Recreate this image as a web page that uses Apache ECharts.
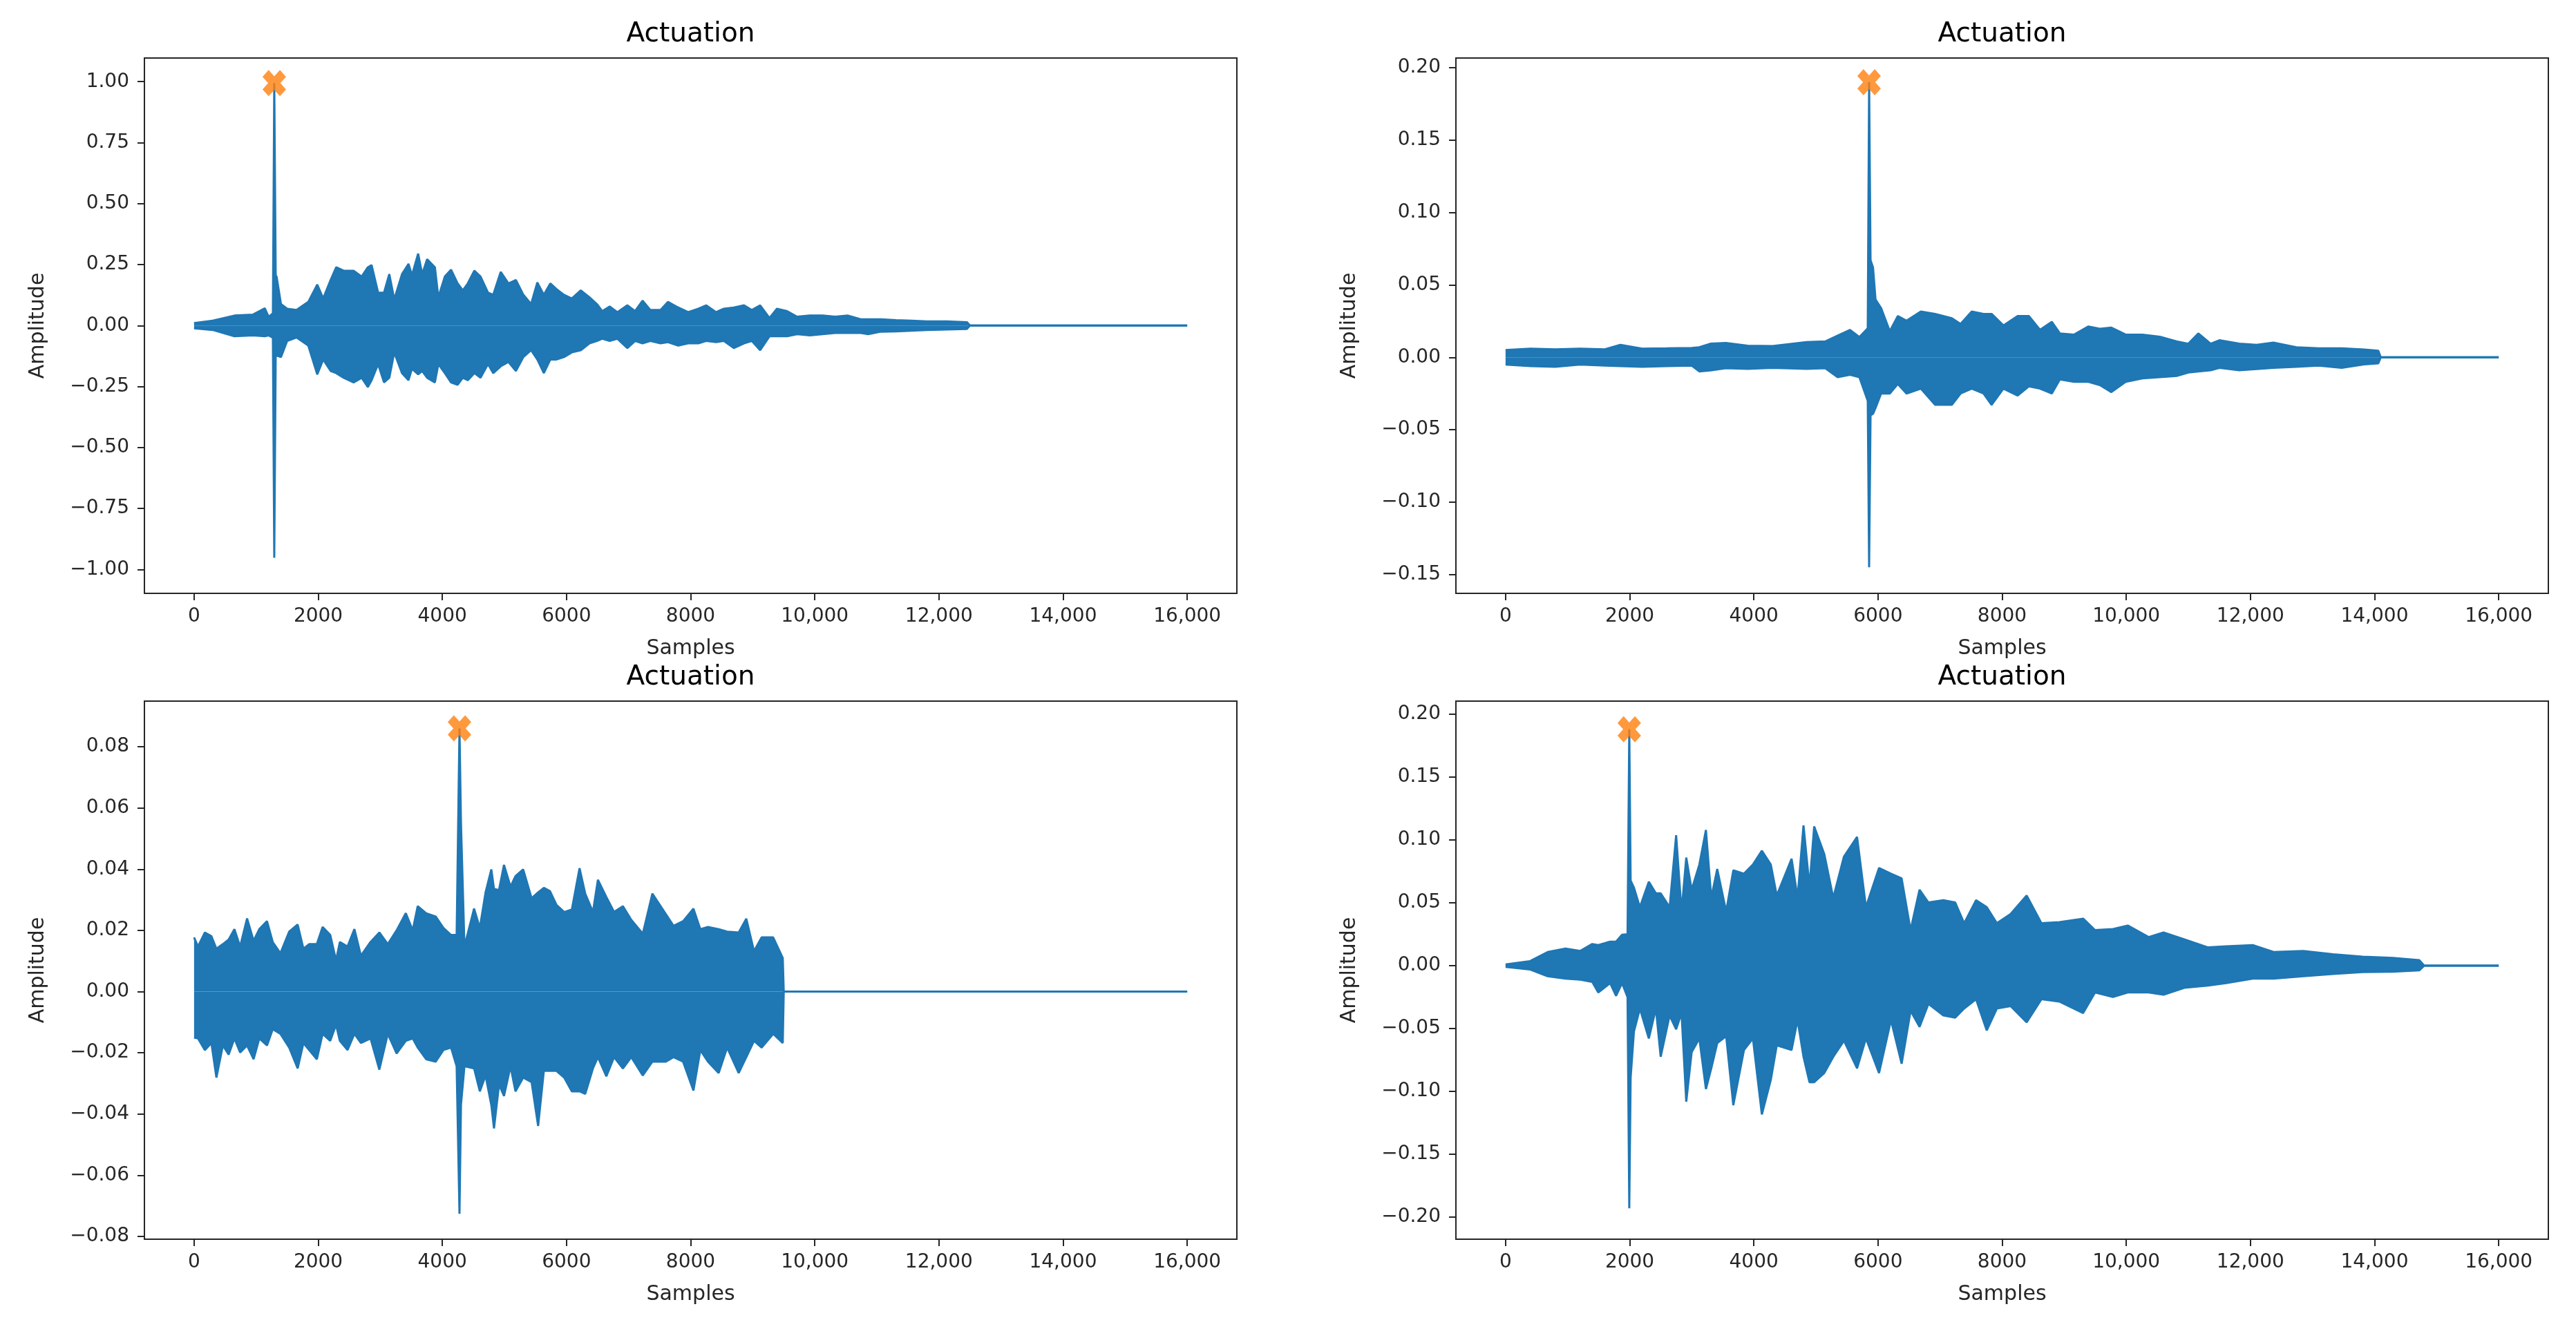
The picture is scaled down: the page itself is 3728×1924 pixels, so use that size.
<!DOCTYPE html>
<html>
<head>
<meta charset="utf-8">
<script src="https://cdn.jsdelivr.net/npm/echarts@6/dist/echarts.min.js"></script>
<style>
html, body { margin: 0; padding: 0; background: #fff; }
#chart { width: 3728px; height: 1924px; }
</style>
</head>
<body>
<div id="chart"></div>
<script>
// [sample, upper envelope, lower envelope]
var wave1 = [
    [0, 0.010, -0.011], [300, 0.020, -0.018], [650, 0.041, -0.044], [950, 0.045, -0.040],
    [1140, 0.071, -0.044], [1200, 0.036, -0.040], [1270, 0.050, -0.050], [1292, 0.994, -0.952],
    [1315, 0.207, -0.122], [1330, 0.200, -0.120], [1400, 0.088, -0.129], [1500, 0.069, -0.063],
    [1650, 0.064, -0.049], [1840, 0.097, -0.082], [1985, 0.168, -0.200], [2080, 0.111, -0.139],
    [2200, 0.187, -0.186], [2290, 0.239, -0.195], [2410, 0.225, -0.214], [2570, 0.225, -0.233],
    [2700, 0.201, -0.214], [2800, 0.239, -0.252], [2860, 0.248, -0.224], [2965, 0.135, -0.158],
    [3060, 0.135, -0.233], [3145, 0.211, -0.214], [3225, 0.107, -0.110], [3350, 0.211, -0.195],
    [3455, 0.253, -0.224], [3510, 0.206, -0.177], [3610, 0.295, -0.200], [3675, 0.211, -0.186],
    [3755, 0.272, -0.214], [3880, 0.239, -0.233], [3935, 0.116, -0.158], [4040, 0.201, -0.195],
    [4140, 0.229, -0.233], [4245, 0.173, -0.243], [4330, 0.144, -0.214], [4410, 0.173, -0.224],
    [4515, 0.225, -0.195], [4615, 0.201, -0.214], [4735, 0.135, -0.158], [4820, 0.126, -0.195],
    [4940, 0.220, -0.167], [5065, 0.173, -0.149], [5185, 0.187, -0.186], [5305, 0.126, -0.129],
    [5430, 0.088, -0.101], [5530, 0.177, -0.139], [5635, 0.126, -0.195], [5740, 0.173, -0.139],
    [5840, 0.149, -0.139], [5960, 0.126, -0.129], [6085, 0.111, -0.110], [6230, 0.144, -0.101],
    [6370, 0.116, -0.073], [6490, 0.088, -0.063], [6575, 0.059, -0.054], [6695, 0.078, -0.063],
    [6820, 0.055, -0.054], [6980, 0.083, -0.092], [7105, 0.059, -0.063], [7225, 0.102, -0.073],
    [7350, 0.064, -0.063], [7515, 0.064, -0.073], [7635, 0.097, -0.068], [7800, 0.074, -0.082],
    [7960, 0.055, -0.073], [8125, 0.069, -0.073], [8250, 0.083, -0.063], [8410, 0.055, -0.068],
    [8535, 0.069, -0.063], [8695, 0.074, -0.092], [8860, 0.083, -0.073], [8985, 0.064, -0.063],
    [9120, 0.083, -0.101], [9270, 0.031, -0.044], [9390, 0.069, -0.044], [9555, 0.059, -0.044],
    [9715, 0.036, -0.035], [9920, 0.041, -0.040], [10125, 0.041, -0.035], [10330, 0.036, -0.030],
    [10535, 0.041, -0.030], [10740, 0.026, -0.030], [10860, 0.026, -0.035], [11065, 0.026, -0.025],
    [11310, 0.022, -0.024], [11555, 0.020, -0.021], [11800, 0.017, -0.018], [12125, 0.017, -0.016],
    [12450, 0.014, -0.014], [12500, 0, 0], [16000, 0, 0]
];

var wave2 = [
    [0, 0.005, -0.005], [400, 0.006, -0.006], [800, 0.0055, -0.0065], [1200, 0.006, -0.005],
    [1600, 0.0055, -0.0057], [1850, 0.0086, -0.006], [2200, 0.006, -0.0065], [2600, 0.0062, -0.006],
    [3000, 0.0065, -0.0057], [3120, 0.007, -0.0097], [3300, 0.0094, -0.009], [3550, 0.0099, -0.0075],
    [3900, 0.008, -0.008], [4300, 0.0078, -0.0073], [4850, 0.0105, -0.008], [5150, 0.011, -0.0075],
    [5350, 0.015, -0.0137], [5550, 0.0189, -0.012], [5700, 0.014, -0.0137], [5835, 0.020, -0.030],
    [5857, 0.190, -0.145], [5880, 0.067, -0.040], [5920, 0.062, -0.039], [5960, 0.040, -0.035],
    [6050, 0.034, -0.025], [6190, 0.018, -0.025], [6320, 0.0285, -0.0184], [6460, 0.0253, -0.025],
    [6690, 0.0316, -0.0216], [6920, 0.030, -0.0328], [7190, 0.027, -0.0328], [7330, 0.023, -0.025],
    [7510, 0.0316, -0.0216], [7700, 0.030, -0.025], [7830, 0.030, -0.0328], [8020, 0.022, -0.0216],
    [8250, 0.0285, -0.0264], [8430, 0.0285, -0.020], [8610, 0.019, -0.0216], [8800, 0.0245, -0.025],
    [8930, 0.0165, -0.0153], [9160, 0.0157, -0.0169], [9390, 0.0213, -0.0169], [9575, 0.0197, -0.0192],
    [9760, 0.0205, -0.024], [9990, 0.0157, -0.0169], [10260, 0.0157, -0.0145], [10540, 0.0142, -0.0137],
    [10810, 0.011, -0.0129], [11000, 0.0094, -0.0105], [11160, 0.0165, -0.0097], [11360, 0.0094, -0.0089],
    [11500, 0.0118, -0.0073], [11820, 0.0094, -0.0089], [12100, 0.0086, -0.0081], [12370, 0.0102, -0.0073],
    [12740, 0.007, -0.0065], [13100, 0.0062, -0.0057], [13470, 0.0062, -0.0073], [13830, 0.0054, -0.0049],
    [14060, 0.0046, -0.0041], [14100, 0, 0], [16000, 0, 0]
];

var wave3 = [
    [0, 0.0177, -0.0150], [63, 0.0147, -0.0153], [174, 0.0193, -0.0191], [279, 0.0181, -0.0168],
    [360, 0.0140, -0.0281], [464, 0.0155, -0.0176], [557, 0.0170, -0.0206], [650, 0.0204, -0.0153],
    [742, 0.0147, -0.0199], [854, 0.0239, -0.0176], [959, 0.0166, -0.0221], [1051, 0.0204, -0.0153],
    [1175, 0.0230, -0.0176], [1267, 0.0162, -0.0123], [1391, 0.0125, -0.0138], [1533, 0.0196, -0.0183],
    [1669, 0.0219, -0.0251], [1762, 0.0140, -0.0168], [1854, 0.0155, -0.0191], [1978, 0.0155, -0.0221],
    [2071, 0.0211, -0.0138], [2194, 0.0185, -0.0161], [2287, 0.0102, -0.0108], [2349, 0.0162, -0.0161],
    [2472, 0.0147, -0.0191], [2583, 0.0204, -0.0138], [2688, 0.0117, -0.0168], [2843, 0.0162, -0.0153],
    [2985, 0.0193, -0.0255], [3121, 0.0155, -0.0138], [3263, 0.0200, -0.0202], [3411, 0.0256, -0.0161],
    [3522, 0.0200, -0.0153], [3603, 0.0279, -0.0183], [3739, 0.0256, -0.0221], [3893, 0.0245, -0.0229],
    [4017, 0.0208, -0.0191], [4140, 0.0185, -0.0183], [4230, 0.0185, -0.0244], [4276, 0.0860, -0.0726],
    [4300, 0.0550, -0.0370], [4356, 0.0147, -0.0244], [4511, 0.0271, -0.0251], [4604, 0.0208, -0.0326],
    [4696, 0.0324, -0.0274], [4789, 0.0399, -0.0371], [4832, 0.0335, -0.0447], [4913, 0.0332, -0.0304],
    [4993, 0.0414, -0.0341], [5098, 0.0343, -0.0244], [5178, 0.0377, -0.0326], [5302, 0.0399, -0.0281],
    [5438, 0.0305, -0.0296], [5543, 0.0324, -0.0439], [5635, 0.0339, -0.0259], [5734, 0.0328, -0.0259],
    [5839, 0.0283, -0.0259], [5963, 0.0260, -0.0281], [6086, 0.0268, -0.0326], [6210, 0.0403, -0.0326],
    [6302, 0.0320, -0.0334], [6426, 0.0260, -0.0251], [6506, 0.0365, -0.0214], [6642, 0.0309, -0.0277],
    [6766, 0.0260, -0.0214], [6908, 0.0279, -0.0251], [7044, 0.0234, -0.0214], [7229, 0.0189, -0.0274],
    [7384, 0.0320, -0.0229], [7600, 0.0253, -0.0229], [7724, 0.0215, -0.0214], [7878, 0.0230, -0.0229],
    [8045, 0.0271, -0.0323], [8156, 0.0204, -0.0191], [8279, 0.0211, -0.0229], [8452, 0.0204, -0.0266],
    [8588, 0.0196, -0.0183], [8774, 0.0193, -0.0266], [8897, 0.0238, -0.0214], [9021, 0.0132, -0.0161],
    [9144, 0.0177, -0.0183], [9330, 0.0177, -0.0138], [9484, 0.0110, -0.0168], [9500, 0, 0],
    [16000, 0, 0]
];

var wave4 = [
    [0, 0.0010, -0.0010], [390, 0.0035, -0.0030], [678, 0.0108, -0.0084], [965, 0.0136, -0.0103],
    [1205, 0.0117, -0.0112], [1397, 0.0172, -0.0130], [1493, 0.0163, -0.0213], [1685, 0.0191, -0.0139],
    [1780, 0.0191, -0.0240], [1876, 0.0245, -0.0139], [1965, 0.0250, -0.0250], [1993, 0.188, -0.193],
    [2015, 0.0676, -0.0890], [2068, 0.0621, -0.0524], [2164, 0.0465, -0.0341], [2308, 0.0667, -0.0579],
    [2422, 0.0575, -0.0341], [2499, 0.0575, -0.0725], [2643, 0.0465, -0.0396], [2748, 0.1037, -0.0506],
    [2835, 0.0429, -0.0377], [2911, 0.0859, -0.1082], [2998, 0.0603, -0.0689], [3122, 0.0804, -0.0579],
    [3228, 0.1079, -0.0982], [3314, 0.0539, -0.0817], [3410, 0.0768, -0.0616], [3554, 0.0429, -0.0561],
    [3669, 0.0758, -0.1110], [3841, 0.0731, -0.0671], [3985, 0.0804, -0.0579], [4129, 0.0914, -0.1183],
    [4273, 0.0804, -0.0909], [4369, 0.0557, -0.0634], [4608, 0.0850, -0.0671], [4704, 0.0539, -0.0432],
    [4800, 0.1116, -0.0725], [4896, 0.0630, -0.0927], [4972, 0.1107, -0.0927], [5135, 0.0887, -0.0854],
    [5279, 0.0539, -0.0725], [5452, 0.0868, -0.0597], [5663, 0.1024, -0.0817], [5806, 0.0465, -0.0579],
    [6017, 0.0777, -0.0854], [6209, 0.0731, -0.0432], [6381, 0.0694, -0.0780], [6525, 0.0282, -0.0359],
    [6669, 0.0603, -0.0487], [6813, 0.0502, -0.0304], [7053, 0.0520, -0.0396], [7244, 0.0502, -0.0414],
    [7388, 0.0337, -0.0341], [7580, 0.0520, -0.0267], [7752, 0.0465, -0.0515], [7915, 0.0337, -0.0341],
    [8136, 0.0410, -0.0322], [8395, 0.0557, -0.0451], [8634, 0.0337, -0.0267], [8922, 0.0346, -0.0286],
    [9305, 0.0374, -0.0377], [9497, 0.0282, -0.0213], [9785, 0.0291, -0.0249], [10024, 0.0319, -0.0213],
    [10360, 0.0227, -0.0213], [10600, 0.0264, -0.0231], [10935, 0.0209, -0.0176], [11318, 0.0145, -0.0158],
    [11606, 0.0154, -0.0139], [12037, 0.0163, -0.0103], [12373, 0.0108, -0.0103], [12852, 0.0117, -0.0084],
    [13331, 0.0090, -0.0066], [13810, 0.0071, -0.0051], [14290, 0.0062, -0.0048], [14720, 0.0044, -0.0038],
    [14800, 0, 0], [16000, 0, 0]
];

// orange X at the main peak of each panel
var peakX = [1292, 5857, 4276, 1993];
var peakY = [0.994, 0.190, 0.086, 0.188];

var xTicks = [0, 2000, 4000, 6000, 8000, 10000, 12000, 14000, 16000];
var yTicks1 = [-1, -0.75, -0.5, -0.25, 0, 0.25, 0.5, 0.75, 1];
var yTicks2 = [-0.15, -0.1, -0.05, 0, 0.05, 0.1, 0.15, 0.2];
var yTicks3 = [-0.08, -0.06, -0.04, -0.02, 0, 0.02, 0.04, 0.06, 0.08];
var yTicks4 = [-0.2, -0.15, -0.1, -0.05, 0, 0.05, 0.1, 0.15, 0.2];

var waves = [wave1, wave2, wave3, wave4];
var yTicks = [yTicks1, yTicks2, yTicks3, yTicks4];
var yRanges = [[-1.098, 1.097], [-0.163, 0.2067], [-0.0809, 0.0949], [-0.2176, 0.2104]];
var boxes = [
    { left: 209, top: 84, width: 1581, height: 775 },
    { left: 2107, top: 84, width: 1581, height: 775 },
    { left: 209, top: 1015, width: 1581, height: 779 },
    { left: 2107, top: 1015, width: 1581, height: 779 }
];

var BLUE = '#1f77b4';
var ORANGE = '#ff7f0e';
var INK = '#262626';
var FONT = 'DejaVu Sans';
var X_MARK = 'path://M0,2.6 L2.6,0 L5,2.4 L7.4,0 L10,2.6 L7.6,5 L10,7.4 L7.4,10 L5,7.6 L2.6,10 L0,7.4 L2.4,5 Z';

function fmtX(v) {
    if (v >= 10000) {
        return Math.floor(v / 1000) + ',' + ('00' + (v % 1000)).slice(-3);
    }
    return String(v);
}

function fmtY(v) {
    var s = Math.abs(v).toFixed(2);
    return v < 0 ? '\u2212' + s : s;
}

var chart = echarts.init(document.getElementById('chart'), null, { renderer: 'canvas' });

var grids = [], xAxes = [], yAxes = [], titles = [], series = [];

boxes.forEach(function (b, i) {
    grids.push({
        left: b.left, top: b.top, width: b.width, height: b.height,
        show: true, borderColor: INK, borderWidth: 2, backgroundColor: 'transparent'
    });

    titles.push({
        text: 'Actuation',
        left: b.left + b.width / 2,
        top: b.top - 54,
        textAlign: 'center',
        padding: 0,
        textStyle: { fontSize: 39, fontWeight: 'normal', color: '#000', fontFamily: FONT }
    });

    xAxes.push({
        type: 'value', gridIndex: i, min: -800, max: 16800,
        axisLine: { show: false, onZero: false },
        splitLine: { show: false },
        axisTick: { show: true, length: 10, lineStyle: { color: INK, width: 2 }, customValues: xTicks },
        axisLabel: { customValues: xTicks, formatter: fmtX, fontSize: 28, color: INK, margin: 20, fontFamily: FONT },
        name: 'Samples', nameLocation: 'middle', nameGap: 65,
        nameTextStyle: { fontSize: 30, color: INK, fontFamily: FONT }
    });

    yAxes.push({
        type: 'value', gridIndex: i, min: yRanges[i][0], max: yRanges[i][1],
        axisLine: { show: false, onZero: false },
        splitLine: { show: false },
        axisTick: { show: true, length: 10, lineStyle: { color: INK, width: 2 }, customValues: yTicks[i] },
        axisLabel: { customValues: yTicks[i], formatter: fmtY, fontSize: 28, color: INK, margin: 22, fontFamily: FONT },
        name: 'Amplitude', nameLocation: 'middle', nameGap: 139,
        nameTextStyle: { fontSize: 30, color: INK, fontFamily: FONT }
    });

    var w = waves[i];
    series.push({
        type: 'line', xAxisIndex: i, yAxisIndex: i,
        data: w.map(function (p) { return [p[0], p[1]]; }),
        showSymbol: false, silent: true,
        lineStyle: { color: BLUE, width: 3 },
        areaStyle: { color: BLUE, opacity: 1, origin: 'auto' }
    });
    series.push({
        type: 'line', xAxisIndex: i, yAxisIndex: i,
        data: w.map(function (p) { return [p[0], p[2]]; }),
        showSymbol: false, silent: true,
        lineStyle: { color: BLUE, width: 3 },
        areaStyle: { color: BLUE, opacity: 1, origin: 'auto' }
    });
    series.push({
        type: 'scatter', xAxisIndex: i, yAxisIndex: i,
        data: [[peakX[i], peakY[i]]],
        symbol: X_MARK, symbolSize: [34, 38],
        itemStyle: { color: ORANGE }, z: 5, silent: true
    });
});

chart.setOption({
    animation: false,
    backgroundColor: '#fff',
    title: titles,
    grid: grids,
    xAxis: xAxes,
    yAxis: yAxes,
    series: series
});
</script>
</body>
</html>
